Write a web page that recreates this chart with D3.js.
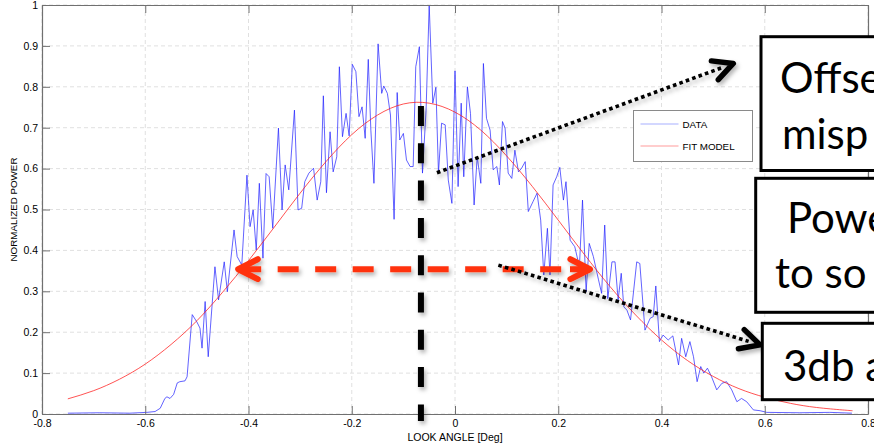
<!DOCTYPE html>
<html>
<head>
<meta charset="utf-8">
<script src="https://cdn.jsdelivr.net/npm/d3@7"></script>
<style>
  body { margin: 0; background: #fff; }
  svg { display: block; font-family: "Liberation Sans", Arial, sans-serif; }
  .axis path, .axis line { stroke: #707070; }
  .axis text { font-size: 10.5px; fill: #000; }
  .grid line { stroke: #e0e0e0; stroke-dasharray: 4,3; }
  .axis-title { font-size: 10.5px; fill: #000; }
  .legend-text { font-size: 9.8px; fill: #000; }
  .note-box { fill: #fff; stroke: #000; stroke-width: 3; }
  .note-text { font-family: Lato, "Open Sans", sans-serif; font-size: 42px; fill: #000; }
</style>
</head>
<body>
<svg id="chart"></svg>
<script>
// ---- values ----
const xTicks = [-0.8, -0.6, -0.4, -0.2, 0, 0.2, 0.4, 0.6, 0.8];
const xTickLabels = ['-0.8', '-0.6', '-0.4', '-0.2', '0', '0.2', '0.4', '0.6', '0.8'];
const yTicks = [0, 0.1, 0.2, 0.3, 0.4, 0.5, 0.6, 0.7, 0.8, 0.9, 1];
const yTickLabels = ['0', '0.1', '0.2', '0.3', '0.4', '0.5', '0.6', '0.7', '0.8', '0.9', '1'];

const seriesNames = ['DATA', 'FIT MODEL'];

// measured beam (DATA)
const dataAngle = [-0.750, -0.688, -0.630, -0.597, -0.581, -0.571, -0.562, -0.558, -0.552, -0.545,
  -0.538, -0.533, -0.523, -0.519, -0.509, -0.500, -0.494, -0.490, -0.484, -0.478,
  -0.465, -0.458, -0.447, -0.441, -0.428, -0.422, -0.413, -0.403, -0.397, -0.391,
  -0.385, -0.379, -0.372, -0.366, -0.360, -0.353, -0.342, -0.335, -0.329, -0.322,
  -0.311, -0.304, -0.297, -0.291, -0.283, -0.274, -0.267, -0.260, -0.255, -0.249,
  -0.242, -0.236, -0.229, -0.224, -0.218, -0.211, -0.205, -0.199, -0.192, -0.186,
  -0.180, -0.174, -0.168, -0.163, -0.157, -0.149, -0.142, -0.138, -0.131, -0.125,
  -0.118, -0.112, -0.107, -0.100, -0.094, -0.087, -0.081, -0.076, -0.069, -0.063,
  -0.056, -0.050, -0.043, -0.037, -0.032, -0.026, -0.019, -0.013, -0.006, 0.000,
  0.006, 0.012, 0.017, 0.024, 0.030, 0.037, 0.043, 0.050, 0.055, 0.061,
  0.068, 0.074, 0.081, 0.086, 0.092, 0.097, 0.103, 0.110, 0.116, 0.123,
  0.129, 0.136, 0.142, 0.151, 0.159, 0.166, 0.172, 0.179, 0.184, 0.190,
  0.197, 0.203, 0.210, 0.215, 0.223, 0.232, 0.241, 0.247, 0.254, 0.260,
  0.268, 0.278, 0.284, 0.290, 0.296, 0.304, 0.310, 0.316, 0.322, 0.327,
  0.333, 0.340, 0.352, 0.358, 0.368, 0.378, 0.384, 0.389, 0.396, 0.403,
  0.413, 0.422, 0.433, 0.439, 0.447, 0.455, 0.462, 0.469, 0.476, 0.482,
  0.489, 0.497, 0.507, 0.517, 0.526, 0.536, 0.546, 0.555, 0.565, 0.578,
  0.591, 0.604, 0.668, 0.726, 0.769];
const dataPower = [0.002, 0.003, 0.002, 0.004, 0.006, 0.014, 0.038, 0.042, 0.038, 0.048,
  0.076, 0.079, 0.081, 0.091, 0.243, 0.225, 0.210, 0.161, 0.275, 0.140,
  0.360, 0.279, 0.372, 0.299, 0.450, 0.385, 0.364, 0.584, 0.458, 0.499,
  0.401, 0.564, 0.381, 0.588, 0.580, 0.454, 0.699, 0.499, 0.609, 0.548,
  0.743, 0.499, 0.503, 0.568, 0.589, 0.601, 0.523, 0.568, 0.778, 0.541,
  0.690, 0.592, 0.629, 0.849, 0.678, 0.735, 0.680, 0.855, 0.837, 0.727,
  0.751, 0.674, 0.867, 0.694, 0.564, 0.905, 0.784, 0.802, 0.784, 0.731,
  0.476, 0.786, 0.670, 0.686, 0.621, 0.605, 0.605, 0.849, 0.898, 0.589,
  0.743, 1.000, 0.760, 0.799, 0.589, 0.711, 0.707, 0.572, 0.515, 0.839,
  0.556, 0.760, 0.580, 0.800, 0.735, 0.511, 0.629, 0.564, 0.857, 0.723,
  0.694, 0.597, 0.605, 0.560, 0.715, 0.699, 0.589, 0.576, 0.645, 0.592,
  0.601, 0.617, 0.495, 0.519, 0.540, 0.474, 0.340, 0.454, 0.340, 0.560,
  0.580, 0.603, 0.523, 0.568, 0.425, 0.409, 0.360, 0.523, 0.299, 0.417,
  0.385, 0.328, 0.295, 0.462, 0.282, 0.372, 0.372, 0.279, 0.344, 0.262,
  0.254, 0.230, 0.372, 0.368, 0.205, 0.234, 0.238, 0.313, 0.177, 0.193,
  0.181, 0.191, 0.120, 0.185, 0.140, 0.177, 0.140, 0.079, 0.116, 0.100,
  0.112, 0.091, 0.059, 0.075, 0.079, 0.059, 0.030, 0.038, 0.030, 0.010,
  0.008, 0.004, 0.003, 0.004, 0.002];

// fitted beam (FIT MODEL), sampled off the red curve
const fitAngle = [-0.75, -0.70, -0.65, -0.60, -0.55, -0.50, -0.45, -0.40, -0.35, -0.30, -0.25,
  -0.20, -0.15, -0.10, -0.05, 0.00, 0.05, 0.10, 0.15, 0.20, 0.25, 0.30, 0.35,
  0.40, 0.45, 0.50, 0.55, 0.60, 0.65, 0.70, 0.75, 0.77];
const fitPower = [0.037, 0.057, 0.085, 0.122, 0.170, 0.228, 0.298, 0.375, 0.457, 0.540, 0.617,
  0.683, 0.731, 0.758, 0.760, 0.738, 0.694, 0.631, 0.556, 0.474, 0.391, 0.312, 0.242,
  0.181, 0.131, 0.092, 0.062, 0.041, 0.026, 0.016, 0.010, 0.008];

// annotation anchors, in data units
const peakMarker = { angle: -0.066, top: 0.753, bottom: -0.017 };
const halfPowerArrow = { power: 0.354, from: -0.420, to: 0.2615 };
const offsetArrow = { from: [-0.035, 0.590], to: [0.539, 0.857] };
const widthArrow = { from: [0.084, 0.364], to: [0.591, 0.169] };

const noteLines = [
  { box: 0, text: 'Offse', x: 780, y: 93 },
  { box: 0, text: 'misp', x: 782, y: 149 },
  { box: 1, text: 'Powe', x: 787, y: 233 },
  { box: 1, text: 'to so', x: 775, y: 288 },
  { box: 2, text: '3db a', x: 783, y: 381 }
];

class BeamPlot {

  constructor(_config) {
    this.config = {
      parentElement: _config.parentElement,
      containerWidth: _config.containerWidth || 874,
      containerHeight: _config.containerHeight || 447,
      margin: _config.margin || {top: 5, right: 6, bottom: 33, left: 42}
    };
    this.initVis();
  }

  initVis() {
    let vis = this;

    vis.width = vis.config.containerWidth - vis.config.margin.left - vis.config.margin.right;
    vis.height = vis.config.containerHeight - vis.config.margin.top - vis.config.margin.bottom;

    vis.xScale = d3.scaleLinear().domain([-0.8, 0.8]).range([0, vis.width]);
    vis.yScale = d3.scaleLinear().domain([0, 1]).range([vis.height, 0]);

    vis.svg = d3.select(vis.config.parentElement)
      .attr('width', vis.config.containerWidth)
      .attr('height', vis.config.containerHeight);

    const defs = vis.svg.append('defs');
    defs.append('filter')
      .attr('id', 'shadow')
      .attr('filterUnits', 'userSpaceOnUse')
      .attr('x', 0).attr('y', 0)
      .attr('width', vis.config.containerWidth)
      .attr('height', vis.config.containerHeight)
      .append('feDropShadow')
      .attr('dx', 2).attr('dy', 3)
      .attr('stdDeviation', 2)
      .attr('flood-color', '#000')
      .attr('flood-opacity', 0.3);

    vis.chart = vis.svg.append('g')
      .attr('transform', `translate(${vis.config.margin.left},${vis.config.margin.top})`);

    vis.gridG = vis.chart.append('g').attr('class', 'grid');
    vis.linesG = vis.chart.append('g');
    vis.axesG = vis.chart.append('g');
    vis.legendG = vis.chart.append('g');
    vis.notesG = vis.chart.append('g');
    vis.boxesG = vis.svg.append('g');
    vis.frontAxisG = vis.chart.append('g');

    // axis titles
    vis.svg.append('text')
      .attr('class', 'axis-title')
      .attr('x', vis.config.margin.left + vis.xScale(0))
      .attr('y', 441)
      .attr('text-anchor', 'middle')
      .text('LOOK ANGLE [Deg]');

    vis.svg.append('text')
      .attr('class', 'axis-title')
      .attr('transform', `translate(17,${vis.config.margin.top + vis.yScale(0.5)}) rotate(-90)`)
      .attr('text-anchor', 'middle')
      .style('font-size', '9.8px')
      .text('NORMALIZED POWER');
  }

  updateVis() {
    let vis = this;
    vis.dataSeries = dataAngle.map((a, i) => ({angle: a, power: dataPower[i]}));
    vis.fitSeries = fitAngle.map((a, i) => ({angle: a, power: fitPower[i]}));
    vis.renderVis();
  }

  renderVis() {
    let vis = this;
    const x = vis.xScale, y = vis.yScale;

    // grid
    vis.gridG.selectAll('.gx')
      .data(xTicks)
      .join('line')
      .attr('class', 'gx')
      .attr('x1', d => x(d)).attr('x2', d => x(d))
      .attr('y1', 0).attr('y2', vis.height);
    vis.gridG.selectAll('.gy')
      .data(yTicks)
      .join('line')
      .attr('class', 'gy')
      .attr('x1', 0).attr('x2', vis.width)
      .attr('y1', d => y(d)).attr('y2', d => y(d));

    // axes (ticks point inward, MATLAB style)
    const xAxis = d3.axisBottom(x).tickValues(xTicks)
      .tickFormat((d, i) => xTickLabels[i]).tickSizeInner(-8).tickSizeOuter(0).tickPadding(6);
    const yAxis = d3.axisLeft(y).tickValues(yTicks)
      .tickFormat((d, i) => yTickLabels[i]).tickSizeInner(-8).tickSizeOuter(0).tickPadding(4);
    const topAxis = d3.axisTop(x).tickValues(xTicks).tickFormat('').tickSizeInner(-8).tickSizeOuter(0);
    const rightAxis = d3.axisRight(y).tickValues(yTicks).tickFormat('').tickSizeInner(-8).tickSizeOuter(0);

    vis.axesG.append('g').attr('class', 'axis')
      .attr('transform', `translate(0,${vis.height})`).call(xAxis);
    vis.axesG.append('g').attr('class', 'axis').call(yAxis);
    vis.axesG.append('g').attr('class', 'axis').call(topAxis);
    vis.frontAxisG.append('g').attr('class', 'axis')
      .attr('transform', `translate(${vis.width},0)`).call(rightAxis);
    vis.chart.selectAll('.axis .domain').attr('stroke-width', 1.2);

    // series
    const line = d3.line().x(d => x(d.angle)).y(d => y(d.power));
    vis.linesG.append('path')
      .datum(vis.dataSeries)
      .attr('fill', 'none')
      .attr('stroke', '#2020ff')
      .attr('stroke-width', 0.7)
      .attr('d', line);
    vis.linesG.append('path')
      .datum(vis.fitSeries)
      .attr('fill', 'none')
      .attr('stroke', '#ff1a1a')
      .attr('stroke-width', 0.75)
      .attr('d', line.curve(d3.curveNatural));

    // legend
    const lg = vis.legendG.attr('transform', `translate(${633.5 - vis.config.margin.left},${110.5 - vis.config.margin.top})`);
    lg.append('rect')
      .attr('width', 119).attr('height', 51)
      .attr('fill', '#fff').attr('stroke', '#8a8a8a');
    const legendColors = ['#a8b0ff', '#ff9c9c'];
    seriesNames.forEach((name, i) => {
      lg.append('line')
        .attr('x1', 7).attr('x2', 45)
        .attr('y1', 13.5 + i * 22).attr('y2', 13.5 + i * 22)
        .attr('stroke', legendColors[i]).attr('stroke-width', 1.2);
      lg.append('text')
        .attr('class', 'legend-text')
        .attr('x', 49).attr('y', 17.5 + i * 22)
        .text(name);
    });

    vis.renderNotes();
  }

  arrowHead(tip, from, len, spread) {
    const ang = Math.atan2(from[1] - tip[1], from[0] - tip[0]);
    const s = spread * Math.PI / 180;
    const a1 = [tip[0] + len * Math.cos(ang - s), tip[1] + len * Math.sin(ang - s)];
    const a2 = [tip[0] + len * Math.cos(ang + s), tip[1] + len * Math.sin(ang + s)];
    return `M${a1}L${tip}L${a2}`;
  }

  renderNotes() {
    let vis = this;
    const x = vis.xScale, y = vis.yScale;
    const g = vis.notesG.attr('filter', 'url(#shadow)');

    // vertical peak marker
    g.append('line')
      .attr('x1', x(peakMarker.angle)).attr('x2', x(peakMarker.angle))
      .attr('y1', y(peakMarker.top)).attr('y2', y(peakMarker.bottom))
      .attr('stroke', '#000').attr('stroke-width', 6)
      .attr('stroke-dasharray', '20,17.3');

    // half power width, double arrow
    const red = '#ff3311';
    const hy = y(halfPowerArrow.power);
    const hx0 = x(halfPowerArrow.from), hx1 = x(halfPowerArrow.to);
    g.append('line')
      .attr('x1', hx0 + 2).attr('x2', hx1)
      .attr('y1', hy).attr('y2', hy)
      .attr('stroke', red).attr('stroke-width', 6)
      .attr('stroke-dasharray', '21,16.5');
    g.append('line')
      .attr('x1', hx1 - 20).attr('x2', hx1)
      .attr('y1', hy).attr('y2', hy)
      .attr('stroke', red).attr('stroke-width', 6);
    [[hx0, hx1], [hx1, hx0]].forEach(([t, f]) => {
      g.append('path')
        .attr('d', vis.arrowHead([t, hy], [f, hy], 22, 27))
        .attr('fill', 'none').attr('stroke', red).attr('stroke-width', 6)
        .attr('stroke-linecap', 'round').attr('stroke-linejoin', 'round');
    });

    // dotted pointers
    [offsetArrow, widthArrow].forEach(a => {
      const p0 = [x(a.from[0]), y(a.from[1])];
      const p1 = [x(a.to[0]), y(a.to[1])];
      const len = Math.hypot(p1[0] - p0[0], p1[1] - p0[1]);
      const k = (len - 12) / len;
      g.append('line')
        .attr('x1', p0[0]).attr('y1', p0[1])
        .attr('x2', p0[0] + (p1[0] - p0[0]) * k).attr('y2', p0[1] + (p1[1] - p0[1]) * k)
        .attr('stroke', '#000').attr('stroke-width', 3.6)
        .attr('stroke-dasharray', '3.6,3.2');
      g.append('path')
        .attr('d', vis.arrowHead(p1, p0, 22, 27))
        .attr('fill', 'none').attr('stroke', '#000').attr('stroke-width', 5.5)
        .attr('stroke-linecap', 'round').attr('stroke-linejoin', 'round');
    });

    // slide text boxes laid over the plot
    const boxes = [
      {x: 761, y: 36.7, h: 133.8},
      {x: 755.7, y: 178.3, h: 134},
      {x: 762.3, y: 323.3, h: 76.4}
    ];
    vis.boxesG.selectAll('rect')
      .data(boxes)
      .join('rect')
      .attr('class', 'note-box')
      .attr('x', d => d.x).attr('y', d => d.y)
      .attr('width', 200).attr('height', d => d.h);
    vis.boxesG.selectAll('text')
      .data(noteLines)
      .join('text')
      .attr('class', 'note-text')
      .attr('x', d => d.x).attr('y', d => d.y)
      .text(d => d.text);
  }
}

const plot = new BeamPlot({ parentElement: '#chart' });
plot.updateVis();
</script>
</body>
</html>
